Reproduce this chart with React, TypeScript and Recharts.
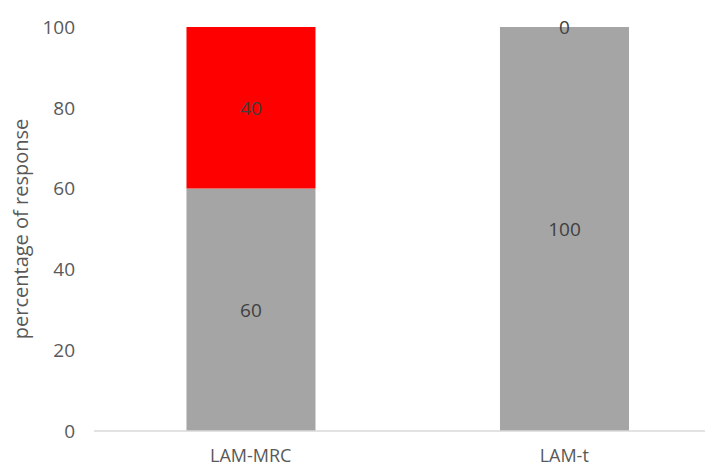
import React from "react";
import { BarChart, Bar, XAxis, YAxis, LabelList } from "recharts";

const categories = ["LAM-MRC", "LAM-t"];
const grayValues = [60, 100];
const redValues = [40, 0];
const yTicks = [0, 20, 40, 60, 80, 100];

const data = categories.map((c, i) => ({ name: c, gray: grayValues[i], red: redValues[i] }));

const font = "'Open Sans', 'Liberation Sans', sans-serif";
const labelColor = "#404040";
const labelSize = 19;

const renderRedLabel = (props: any) => {
  const { x, y, width, height, value } = props;
  if (!value) return null;
  return (
    <text
      x={Number(x) + Number(width) / 2}
      y={Number(y) + Number(height) / 2}
      textAnchor="middle"
      dominantBaseline="central"
      fill={labelColor}
      fontSize={labelSize}
      fontFamily={font}
    >
      {value}
    </text>
  );
};

// zero-height red segments are not drawn, so their "0" label sits on top of the gray segment
const renderZeroRedLabel = (props: any) => {
  const { x, y, width, index } = props;
  if (redValues[index] !== 0) return null;
  return (
    <text
      x={Number(x) + Number(width) / 2}
      y={Number(y)}
      textAnchor="middle"
      dominantBaseline="central"
      fill={labelColor}
      fontSize={labelSize}
      fontFamily={font}
    >
      {redValues[index]}
    </text>
  );
};

export default function App() {
  return (
    <div style={{ width: 705, height: 466, overflow: "hidden", background: "#fff" }}>
      <style>{"html,body{margin:0;padding:0;overflow:hidden;background:#fff}"}</style>
      <BarChart
        width={721}
        height={466}
        data={data}
        margin={{ top: 27, right: 0, bottom: 0, left: 8 }}
        barCategoryGap="29.5%"
      >
        <XAxis
          dataKey="name"
          axisLine={{ stroke: "#d9d9d9", strokeWidth: 1.5 }}
          tickLine={false}
          height={35}
          tickMargin={12}
          tick={{ fill: "#595959", fontSize: 18, fontFamily: font }}
        />
        <YAxis
          width={86}
          domain={[0, 100]}
          ticks={yTicks}
          axisLine={false}
          tickLine={false}
          tickMargin={13}
          tick={{ fill: "#595959", fontSize: 19, fontFamily: font }}
          label={{
            value: "percentage of response",
            angle: -90,
            position: "insideLeft",
            dx: 8,
            dy: 0,
            style: { textAnchor: "middle", fill: "#595959", fontSize: 20, fontFamily: font },
          }}
        />
        <Bar dataKey="gray" stackId="a" fill="#A5A5A5" isAnimationActive={false}>
          <LabelList dataKey="gray" position="center" fill={labelColor} fontSize={labelSize} fontFamily={font} />
          <LabelList dataKey="red" content={renderZeroRedLabel} />
        </Bar>
        <Bar dataKey="red" stackId="a" fill="#FF0000" isAnimationActive={false}>
          <LabelList dataKey="red" content={renderRedLabel} />
        </Bar>
      </BarChart>
    </div>
  );
}
